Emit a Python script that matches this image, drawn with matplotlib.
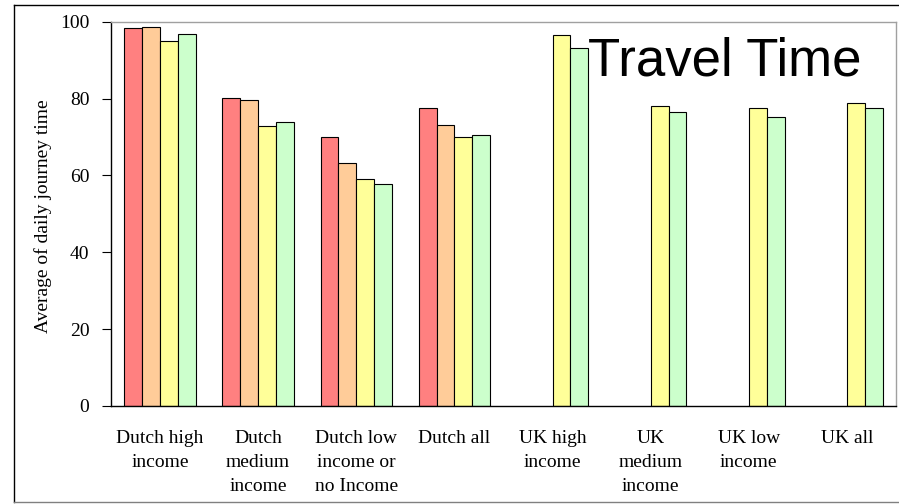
import numpy as np
import matplotlib.pyplot as plt
from matplotlib.lines import Line2D

# average daily journey time per income group (minutes)
groups = [
    "Dutch high\nincome",
    "Dutch\nmedium\nincome",
    "Dutch low\nincome or\nno Income",
    "Dutch all",
    "UK high\nincome",
    "UK\nmedium\nincome",
    "UK low\nincome",
    "UK all",
]
series_1 = [98.3, 80.2, 70.1, 77.5, np.nan, np.nan, np.nan, np.nan]
series_2 = [98.6, 79.7, 63.2, 73.1, np.nan, np.nan, np.nan, np.nan]
series_3 = [94.9, 72.9, 59.1, 70.0, 96.5, 78.0, 77.5, 78.9]
series_4 = [96.9, 73.8, 57.8, 70.5, 93.1, 76.4, 75.1, 77.5]

colors = ["#FF8080", "#FFCC99", "#FFFF99", "#CCFFCC"]

W, H = 899, 504
fig = plt.figure(figsize=(W / 100, H / 100), dpi=100)
ax = fig.add_axes([111 / W, (H - 406) / H, 785 / W, 384.3 / H])

serif = ["Liberation Serif", "DejaVu Serif"]

x = np.arange(len(groups))
bw = 0.182
for i, (vals, c) in enumerate(zip([series_1, series_2, series_3, series_4], colors)):
    ax.bar(x + (i - 1.5) * bw, vals, width=bw, color=c,
           edgecolor="black", linewidth=0.8)

ax.set_xlim(-0.5, len(groups) - 0.5)
ax.set_ylim(0, 100)
ax.set_yticks(range(0, 101, 20))
ax.set_xticks(x)
ax.set_xticklabels(groups, family=serif, fontsize=14, linespacing=1.55)
for lab in ax.get_yticklabels():
    lab.set_family(serif)
    lab.set_fontsize(14)
ax.tick_params(axis="x", length=0, pad=17)
ax.tick_params(axis="y", length=6.5, width=0.8, pad=9)

ax.spines["left"].set_linewidth(1)
ax.spines["bottom"].set_linewidth(1)
for side in ["top", "right"]:
    ax.spines[side].set_color("#a0a0a0")
    ax.spines[side].set_linewidth(1)

fig.text(43 / W, 1 - 216 / H, "Average of daily journey time", rotation=90,
         ha="center", va="center", family=serif, fontsize=14)

fig.text(862 / W, 1 - 75 / H, "Travel Time", ha="right", va="baseline",
         family=["Liberation Sans", "DejaVu Sans"], fontsize=38)

# outer chart frame
fig.add_artist(Line2D([14 / W, 1], [1 - 5 / H, 1 - 5 / H], color="black", lw=1))
fig.add_artist(Line2D([14 / W, 14 / W], [1 - 5 / H, 1 - 502 / H], color="black", lw=1))
fig.add_artist(Line2D([14 / W, 1], [1 - 502 / H, 1 - 502 / H], color="#808080", lw=1))

fig.savefig("out.png", dpi=100)
